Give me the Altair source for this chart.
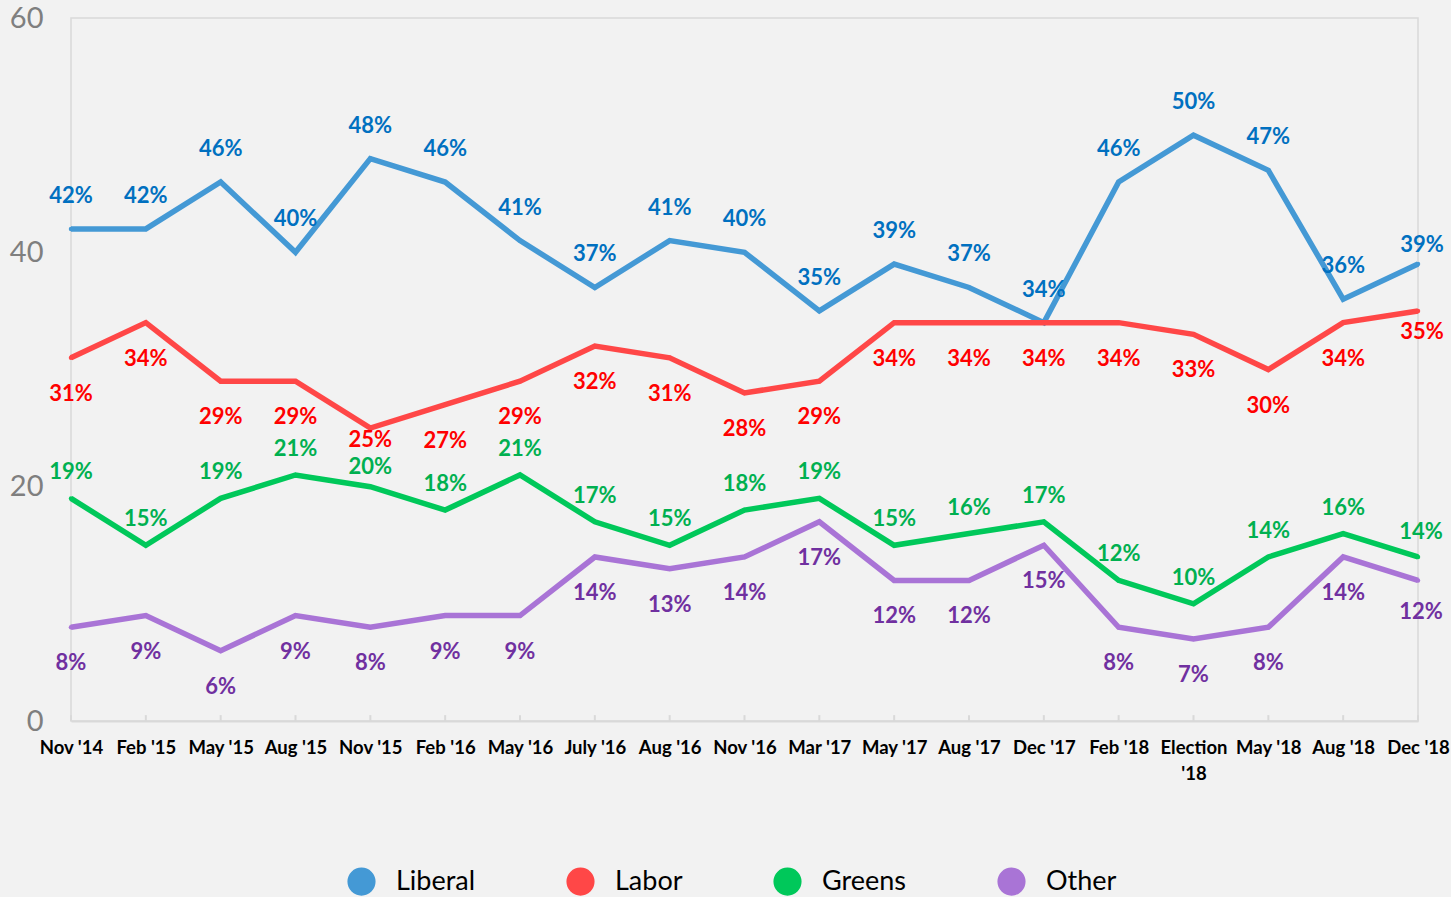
import altair as alt
import pandas as pd

categories = ["Nov '14", "Feb '15", "May '15", "Aug '15", "Nov '15", "Feb '16", "May '16",
              "July '16", "Aug '16", "Nov '16", "Mar '17", "May '17", "Aug '17", "Dec '17",
              "Feb '18", "Election '18", "May '18", "Aug '18", "Dec '18"]
liberal = [42, 42, 46, 40, 48, 46, 41, 37, 41, 40, 35, 39, 37, 34, 46, 50, 47, 36, 39]
labor = [31, 34, 29, 29, 25, 27, 29, 32, 31, 28, 29, 34, 34, 34, 34, 33, 30, 34, 35]
greens = [19, 15, 19, 21, 20, 18, 21, 17, 15, 18, 19, 15, 16, 17, 12, 10, 14, 16, 14]
other = [8, 9, 6, 9, 8, 9, 9, 14, 13, 14, 17, 12, 12, 15, 8, 7, 8, 14, 12]
series_names = ["Liberal", "Labor", "Greens", "Other"]

line_colors = ["#4499d5", "#ff4747", "#00c85a", "#a974d6"]
label_colors = ["#0070c0", "#ff0000", "#00b050", "#7030a0"]
label_dy = [-33, 36, -26, 36]
# individual label nudges (series, period) -> (dx, dy), as in the original chart
label_nudges = {
    ("Labor", "Nov '15"): (0, 12),
    ("Greens", "Nov '15"): (0, -20),
    ("Liberal", "Dec '18"): (4, -19),
    ("Labor", "Dec '18"): (4, 21),
    ("Greens", "Dec '18"): (3, -25),
    ("Other", "Dec '18"): (3, 32),
}

rows = []
for name, vals in zip(series_names, [liberal, labor, greens, other]):
    for c, v in zip(categories, vals):
        rows.append({"period": c, "series": name, "value": v, "label": f"{v}%"})
df = pd.DataFrame(rows)
ticks_df = pd.DataFrame({"period": categories})

FONT = "Lato"
label_expr = 'datum.label == "Election \'18" ? ["Election", "\'18"] : datum.label'

x = alt.X("period:N", sort=categories,
          scale=alt.Scale(type="point", padding=0),
          axis=alt.Axis(title=None, labelAngle=0, labelAlign="center", labelFont=FONT,
                        labelFontWeight="bold", labelFontSize=18.5, labelColor="#000000",
                        labelPadding=17, domainColor="#d9d9d9", domainWidth=2, ticks=False,
                        labelOverlap=False, labelExpr=label_expr, labelLineHeight=26,
                        labelBaseline="top"))
y = alt.Y("value:Q", scale=alt.Scale(domain=[0, 60]),
          axis=alt.Axis(values=[0, 20, 40, 60], title=None, labelFont=FONT,
                        labelFontSize=29, labelColor="#7f7f7f", labelPadding=28,
                        ticks=False, domain=False, gridColor="#d9d9d9", gridWidth=1.5))

base = alt.Chart(df)

points = base.mark_circle(size=20, opacity=1).encode(
    x=x, y=y,
    fill=alt.Fill("series:N", sort=series_names,
                  scale=alt.Scale(domain=series_names, range=line_colors),
                  legend=alt.Legend(title=None, orient="none", legendX=276, legendY=849,
                                    direction="horizontal", symbolType="circle",
                                    symbolSize=710, labelFont=FONT, labelFontSize=27,
                                    labelColor="#000000", labelOffset=20,
                                    columnPadding=88, padding=0)),
)

lines = base.mark_line(strokeWidth=5.5).encode(
    x=x, y=y,
    stroke=alt.Stroke("series:N", sort=series_names,
                      scale=alt.Scale(domain=series_names, range=line_colors),
                      legend=None),
    detail="series:N",
)

tick_marks = alt.Chart(ticks_df).mark_rule(color="#d9d9d9", strokeWidth=2).encode(
    x=alt.X("period:N", sort=categories), y=alt.datum(0), y2=alt.datum(0.5)
)

text_style = dict(font=FONT, fontWeight="bold", fontSize=22)
text_layers = []
for name, col, dy in zip(series_names, label_colors, label_dy):
    excluded = [p for (s, p) in label_nudges if s == name]
    flt = alt.datum.series == name
    for p in excluded:
        flt = flt & (alt.datum.period != p)
    text_layers.append(
        base.transform_filter(flt).mark_text(dy=dy, color=col, **text_style)
        .encode(x=x, y=y, text="label:N")
    )
for (s, p), (ddx, ddy) in label_nudges.items():
    col = label_colors[series_names.index(s)]
    text_layers.append(
        base.transform_filter((alt.datum.series == s) & (alt.datum.period == p))
        .mark_text(dx=ddx, dy=ddy, color=col, **text_style)
        .encode(x=x, y=y, text="label:N")
    )

chart = alt.layer(tick_marks, points, lines, *text_layers).properties(
    width=1347, height=703,
    padding={"left": 71, "top": 18, "right": 33, "bottom": 176},
    autosize=alt.AutoSizeParams(type="none"),
    background="#f2f2f2",
).configure_view(stroke="#d9d9d9", strokeWidth=1.5)

chart.save("out.html", embed_options={"renderer": "svg", "actions": False})
